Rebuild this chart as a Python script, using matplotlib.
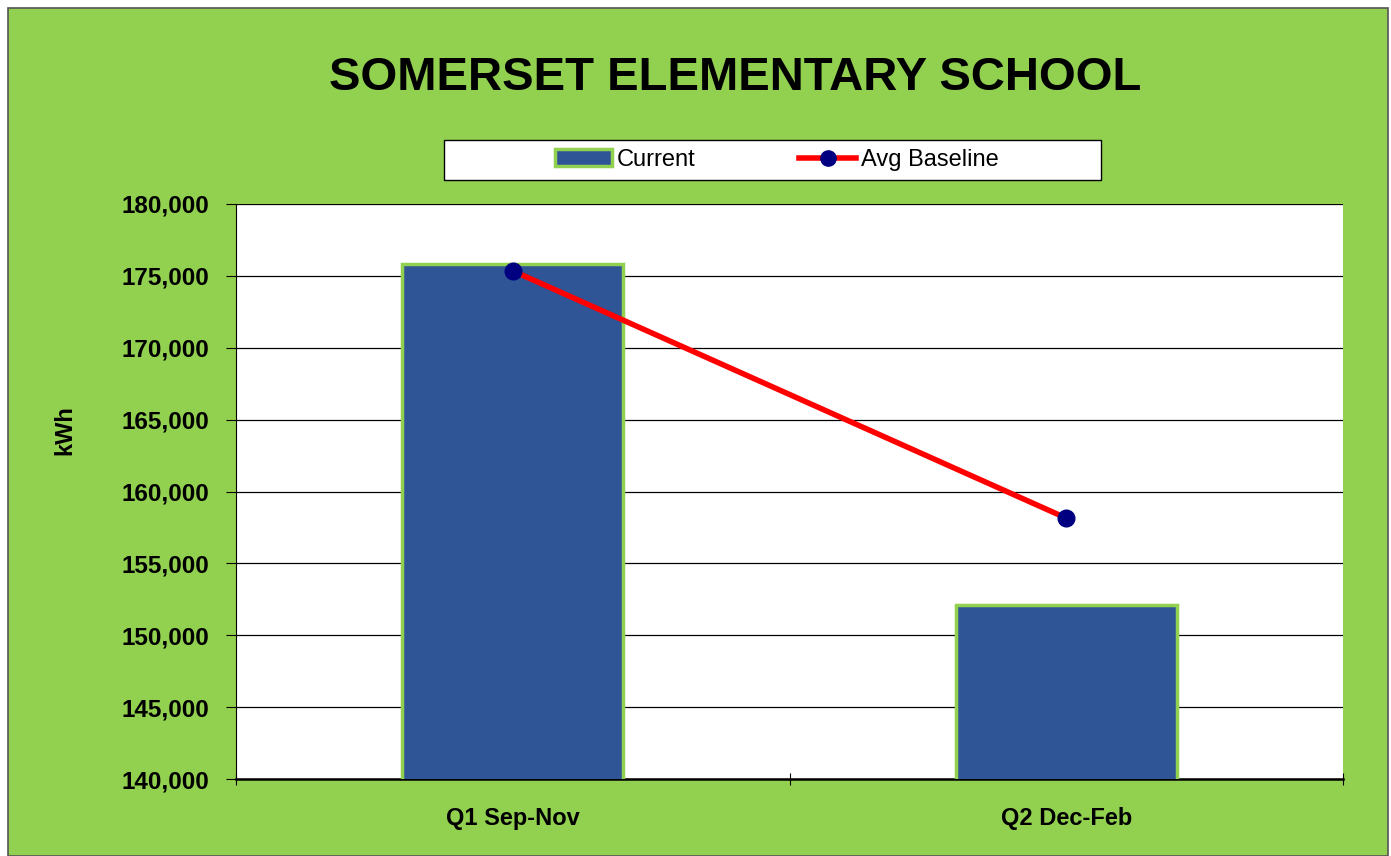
import matplotlib
matplotlib.use("Agg")
import matplotlib.pyplot as plt
from matplotlib.patches import Rectangle
from matplotlib.lines import Line2D
from matplotlib.ticker import FuncFormatter, MultipleLocator
import numpy as np

categories = ["Q1 Sep-Nov", "Q2 Dec-Feb"]
current = [175850, 152100]
avg_baseline = [175350, 158150]
title = "SOMERSET ELEMENTARY SCHOOL"

GREEN = "#92D050"
BLUE = "#2F5597"
NAVY = "#000080"

plt.rcParams['font.family'] = ['Liberation Sans', 'DejaVu Sans']

W, H = 1391, 856
fig = plt.figure(figsize=(13.91, 8.56), dpi=100)
fig.patch.set_facecolor("white")
fig.add_artist(Rectangle((8/W, 0), (1388-8)/W, 1 - 8/H, transform=fig.transFigure,
                         facecolor=GREEN, edgecolor="#555555", linewidth=1.2, zorder=0))

ax = fig.add_axes([236/W, 1 - 779/H, (1343-236)/W, (779-204)/H])
ax.set_facecolor("white")
x = np.arange(len(categories))
ax.bar(x, current, width=0.40, bottom=0, color=BLUE, edgecolor=GREEN, linewidth=2.5, zorder=3)
ax.plot(x, avg_baseline, color="#FF0000", linewidth=4, marker="o", markersize=12,
        markerfacecolor=NAVY, markeredgecolor=NAVY, zorder=4)

ax.set_xlim(-0.5, 1.5)
ax.set_ylim(140000, 180000)
ax.yaxis.set_major_locator(MultipleLocator(5000))
ax.yaxis.set_major_formatter(FuncFormatter(lambda v, p: f"{int(v):,}"))
ax.grid(axis="y", color="black", linewidth=0.9, zorder=1)
ax.set_axisbelow(True)

ax.set_xticks([-0.5, 0.5, 1.5], minor=False)
ax.set_xticklabels([])
ax.set_xticks(x, minor=True)
ax.set_xticklabels(categories, minor=True, fontsize=17, fontweight="bold")
ax.tick_params(axis="x", which="minor", length=0, pad=20)
ax.tick_params(axis="x", which="major", length=8, direction="inout", color="black")
ax.tick_params(axis="y", labelsize=17.5, length=7, direction="out", pad=12)
for lab in ax.get_yticklabels():
    lab.set_fontweight("bold")

for s in ["top", "right"]:
    ax.spines[s].set_visible(False)
ax.spines["left"].set_color("black")
ax.spines["bottom"].set_color("black")
ax.spines["bottom"].set_linewidth(1.8)

fig.text(65/W, 1 - 430/H, "kWh", rotation=90, ha="center", va="center",
         fontsize=17, fontweight="bold")

fig.text(735/W, 1 - 78/H, title, ha="center", va="center", fontsize=34,
         fontweight="bold")

# legend box
fig.add_artist(Rectangle((444/W, 1 - 180/H), (1101-444)/W, 40/H, transform=fig.transFigure,
                         facecolor="white", edgecolor="black", linewidth=1.0, zorder=1))
handles = [Rectangle((0, 0), 1, 1, facecolor=BLUE, edgecolor=GREEN, linewidth=2.5),
           Line2D([0], [0], color="#FF0000", linewidth=4, marker="o", markersize=11,
                  markerfacecolor=NAVY, markeredgecolor=NAVY)]
leg = fig.legend(handles, ["Current", "Avg Baseline"], loc="center",
                 bbox_to_anchor=(777/W, 1 - 160/H), ncol=2, frameon=False,
                 fontsize=17, columnspacing=4.4,
                 handlelength=2.4, handletextpad=0.2, borderpad=0.3)
leg.set_zorder(2)

fig.savefig("out.png", dpi=100)
